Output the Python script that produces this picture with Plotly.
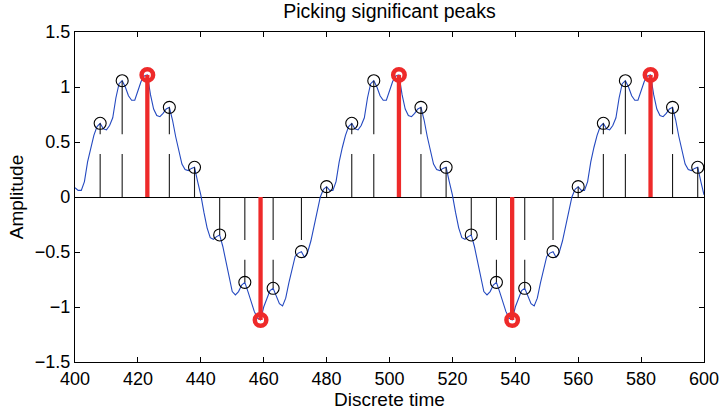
import plotly.graph_objects as go

time = list(range(400, 601))
signal = [
    0.085, 0.06, 0.06, 0.14, 0.32, 0.45, 0.56, 0.64, 0.67, 0.62,
    0.61, 0.65, 0.72, 0.90, 1.03, 1.057, 1.00, 0.92, 0.88, 0.88,
    0.96, 1.05, 1.10, 1.11, 0.93, 0.80, 0.74, 0.73, 0.76, 0.80,
    0.815, 0.70, 0.55, 0.42, 0.30, 0.25, 0.24, 0.26, 0.27, 0.14,
    0.02, -0.14, -0.28, -0.37, -0.385, -0.36, -0.345, -0.45, -0.58, -0.72,
    -0.86, -0.89, -0.86, -0.80, -0.776, -0.86, -0.96, -1.04, -1.10, -1.118,
    -1.00, -0.93, -0.85, -0.83, -0.90, -0.97, -0.99, -0.92, -0.78, -0.66,
    -0.54, -0.51, -0.497, -0.55, -0.50, -0.40, -0.27, -0.12, 0.00, 0.07,
    0.094, 0.06, 0.06, 0.14, 0.32, 0.45, 0.56, 0.64, 0.67, 0.62,
    0.61, 0.65, 0.72, 0.90, 1.03, 1.057, 1.00, 0.92, 0.88, 0.88,
    0.96, 1.05, 1.10, 1.11, 0.93, 0.80, 0.74, 0.73, 0.76, 0.80,
    0.815, 0.70, 0.55, 0.42, 0.30, 0.25, 0.24, 0.26, 0.27, 0.14,
    0.02, -0.14, -0.28, -0.37, -0.385, -0.36, -0.345, -0.45, -0.58, -0.72,
    -0.86, -0.89, -0.86, -0.80, -0.776, -0.86, -0.96, -1.04, -1.10, -1.118,
    -1.00, -0.93, -0.85, -0.83, -0.90, -0.97, -0.99, -0.92, -0.78, -0.66,
    -0.54, -0.51, -0.497, -0.55, -0.50, -0.40, -0.27, -0.12, 0.00, 0.07,
    0.094, 0.06, 0.06, 0.14, 0.32, 0.45, 0.56, 0.64, 0.67, 0.62,
    0.61, 0.65, 0.72, 0.90, 1.03, 1.057, 1.00, 0.92, 0.88, 0.88,
    0.96, 1.05, 1.10, 1.11, 0.93, 0.80, 0.74, 0.73, 0.76, 0.80,
    0.815, 0.70, 0.55, 0.42, 0.30, 0.25, 0.24, 0.26, 0.27, 0.14,
    0.02,
]

# all local peaks (black) and the significant ones (red)
peak_t = [408, 415, 430, 438, 446, 454, 463, 472, 480,
          488, 495, 510, 518, 526, 534, 543, 552, 560,
          568, 575, 590, 598]
peak_v = [0.67, 1.057, 0.815, 0.27, -0.345, -0.776, -0.83, -0.497, 0.094,
          0.67, 1.057, 0.815, 0.27, -0.345, -0.776, -0.83, -0.497, 0.094,
          0.67, 1.057, 0.815, 0.27]
sig_t = [423, 459, 503, 539, 583]
sig_v = [1.11, -1.118, 1.11, -1.118, 1.11]

FONT = "Liberation Sans, Arial, sans-serif"
GAP_LO, GAP_HI = 0.39, 0.57  # the black stems are broken in this band

# black stems, with the break seen in the picture
sx, sy = [], []
for t, v in zip(peak_t, peak_v):
    s = 1 if v >= 0 else -1
    if abs(v) <= GAP_LO:
        sx += [t, t, None]
        sy += [0, v, None]
    elif abs(v) <= GAP_HI:
        sx += [t, t, None]
        sy += [0, s * GAP_LO, None]
    else:
        sx += [t, t, None, t, t, None]
        sy += [0, s * GAP_LO, None, s * GAP_HI, v, None]

# red stems
rx, ry = [], []
for t, v in zip(sig_t, sig_v):
    rx += [t, t, None]
    ry += [0, v, None]

fig = go.Figure()
fig.add_trace(go.Scatter(x=time, y=signal, mode='lines',
                         line=dict(color='#2449c0', width=1.1)))
fig.add_trace(go.Scatter(x=sx, y=sy, mode='lines',
                         line=dict(color='#1a1a1a', width=1.1)))
fig.add_trace(go.Scatter(x=peak_t, y=peak_v, mode='markers',
                         marker=dict(symbol='circle-open', size=12,
                                     color='black', line=dict(width=1.1))))
fig.add_trace(go.Scatter(x=rx, y=ry, mode='lines',
                         line=dict(color='#ee2a2a', width=4.3)))
fig.add_trace(go.Scatter(x=sig_t, y=sig_v, mode='markers',
                         marker=dict(symbol='circle-open', size=11.5,
                                     color='#ee2a2a', line=dict(width=4.5))))

fig.update_layout(
    width=720, height=416,
    margin=dict(l=75, r=16, t=32, b=54, autoexpand=False),
    paper_bgcolor='white', plot_bgcolor='white',
    showlegend=False,
    font=dict(family=FONT, size=18, color='black'),
    title=dict(text='Picking significant peaks', x=0.5, xref='paper',
               y=0.974, yref='container', xanchor='center', yanchor='middle',
               font=dict(family=FONT, size=19.5, color='black')),
)

# box with inward ticks on all sides
fig.update_xaxes(range=[400, 600], dtick=20, tick0=400, automargin=False,
                 ticks='inside', ticklen=5, tickcolor='black',
                 showline=True, linecolor='black', linewidth=1.3, mirror='ticks',
                 showgrid=False, zeroline=False,
                 title=dict(text='Discrete time', font=dict(size=19), standoff=2))
fig.update_yaxes(range=[-1.5, 1.5], dtick=0.5, tick0=-1.5, automargin=False,
                 ticks='inside', ticklen=5, tickcolor='black',
                 showline=True, linecolor='black', linewidth=1.3, mirror='ticks',
                 showgrid=False, zeroline=True, zerolinecolor='black', zerolinewidth=1.3,
                 title=dict(text='Amplitude', font=dict(size=19), standoff=6))

# drop the page's default body margin so the figure sits at the window's corner
fig.write_html("out.html", config={'displayModeBar': False},
               post_script="document.body.style.margin='0';")
